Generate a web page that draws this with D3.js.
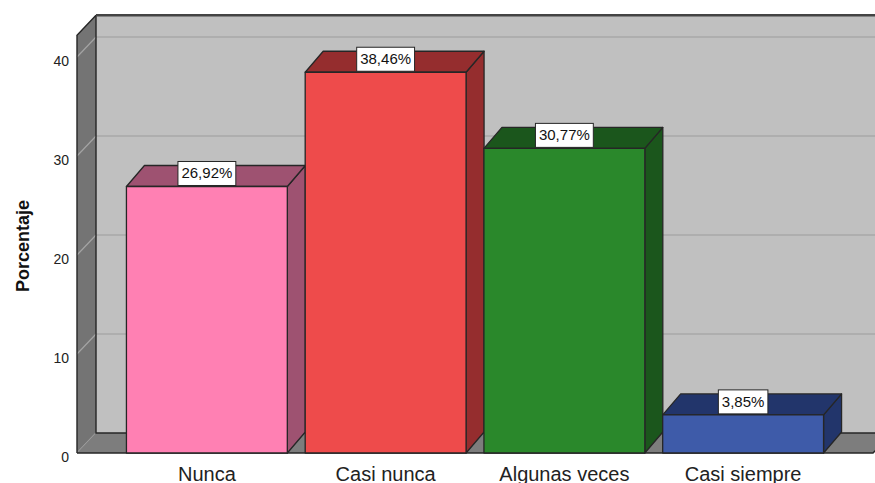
<!DOCTYPE html>
<html>
<head>
<meta charset="utf-8">
<script src="https://cdn.jsdelivr.net/npm/d3@7/dist/d3.min.js"></script>
<style>
  html, body { margin: 0; padding: 0; background: #ffffff; }
  svg { display: block; font-family: "Liberation Sans", Arial, sans-serif; }
</style>
</head>
<body>
<svg id="chart" width="875" height="483"></svg>
<script>
// Frequency of answers, in percent
const categories = ["Nunca", "Casi nunca", "Algunas veces", "Casi siempre"];
const percentages = [26.92, 38.46, 30.77, 3.85];
const valueLabels = ["26,92%", "38,46%", "30,77%", "3,85%"];
const yTicks = [0, 10, 20, 30, 40];
const frontColors = ["#ff80b3", "#ee4b4b", "#2a882b", "#3e5ba9"];
const shadeColors = ["#9e5271", "#952d2e", "#1b561c", "#22356b"];

const svg = d3.select("#chart");
const W = 875, H = 483;

// Box geometry: front plane and depth offsets
const frontLeft = 77, frontRight = 873;
const wallDX = 19, wallDY = 20;
const barDX = 18, barDY = 21;
const yMax = 42.2;

const y = d3.scaleLinear().domain([0, 40]).range([453, 57]);
const x = d3.scaleBand().domain(categories).range([117.5, 832.5])
  .paddingInner(0.1).paddingOuter(0.05);

const yBase = y(0), yTop = y(yMax);
const outline = "#262626";

// Back wall
svg.append("rect")
  .attr("x", frontLeft + wallDX).attr("y", yTop - wallDY)
  .attr("width", W + 40).attr("height", yBase - yTop)
  .attr("fill", "#c0c0c0");

// Gridlines on the back wall
svg.append("g").selectAll("line").data(yTicks.filter(d => d > 0)).join("line")
  .attr("x1", frontLeft + wallDX).attr("x2", W + 40)
  .attr("y1", d => y(d) - wallDY).attr("y2", d => y(d) - wallDY)
  .attr("stroke", "#a8a8a8").attr("stroke-width", 1.5);

// Left wall
svg.append("polygon")
  .attr("points", [[frontLeft, yTop], [frontLeft + wallDX, yTop - wallDY],
    [frontLeft + wallDX, yBase - wallDY], [frontLeft, yBase]].join(" "))
  .attr("fill", "#747474");

// Gridlines on the left wall
svg.append("g").selectAll("line").data(yTicks).join("line")
  .attr("x1", frontLeft).attr("x2", frontLeft + wallDX)
  .attr("y1", d => y(d)).attr("y2", d => y(d) - wallDY)
  .attr("stroke", "#a4a4a4").attr("stroke-width", 1.2);

// Floor
svg.append("polygon")
  .attr("points", [[frontLeft, yBase], [frontLeft + wallDX, yBase - wallDY],
    [frontRight + wallDX, yBase - wallDY], [frontRight, yBase]].join(" "))
  .attr("fill", "#7d7d7d");

// Edges of the box
const edges = svg.append("g").attr("fill", "none").attr("stroke", outline).attr("stroke-width", 1.4);
edges.append("path").attr("d",
  `M${frontLeft},${yBase}V${yTop}L${frontLeft + wallDX},${yTop - wallDY}`);
edges.append("path").attr("d",
  `M${frontLeft + wallDX},${yTop - wallDY}V${yBase - wallDY}H${frontRight + wallDX}`);
edges.append("path").attr("d",
  `M${frontLeft},${yBase}H${frontRight}L${frontRight + wallDX},${yBase - wallDY}`);
edges.append("line")
  .attr("x1", frontLeft + wallDX).attr("x2", W + 40)
  .attr("y1", yTop - wallDY).attr("y2", yTop - wallDY)
  .attr("stroke", "#444").attr("stroke-width", 2.5);

// Bars drawn as 3D boxes
const data = categories.map((c, i) => ({
  cat: c, value: percentages[i], label: valueLabels[i],
  front: frontColors[i], shade: shadeColors[i]
}));

const bars = svg.append("g").selectAll("g").data(data).join("g")
  .attr("stroke", outline).attr("stroke-width", 1.3).attr("stroke-linejoin", "round");

bars.each(function(d) {
  const g = d3.select(this);
  const x1 = x(d.cat), x2 = x1 + x.bandwidth();
  const yt = y(d.value), yb = y(0);
  g.append("polygon")
    .attr("points", [[x2, yt], [x2 + barDX, yt - barDY], [x2 + barDX, yb - barDY], [x2, yb]].join(" "))
    .attr("fill", d.shade);
  g.append("polygon")
    .attr("points", [[x1, yt], [x1 + barDX, yt - barDY], [x2 + barDX, yt - barDY], [x2, yt]].join(" "))
    .attr("fill", d.shade);
  g.append("rect")
    .attr("x", x1).attr("y", yt).attr("width", x2 - x1).attr("height", yb - yt)
    .attr("fill", d.front);
});

// Value labels in white boxes
const labels = svg.append("g").selectAll("g").data(data).join("g")
  .attr("transform", d => `translate(${x(d.cat) + x.bandwidth() / 2},${y(d.value) - 1})`);
labels.append("text")
  .attr("text-anchor", "middle").attr("y", -7)
  .attr("font-size", 15).attr("fill", "#111")
  .text(d => d.label);
labels.each(function() {
  const g = d3.select(this);
  const w = g.select("text").node().getComputedTextLength() + 7;
  g.insert("rect", "text")
    .attr("x", -w / 2).attr("y", -24).attr("width", w).attr("height", 24)
    .attr("fill", "#fff").attr("stroke", outline).attr("stroke-width", 1);
});

// Y axis
const yAxis = svg.append("g")
  .attr("transform", `translate(${frontLeft},0)`)
  .call(d3.axisLeft(y).tickValues(yTicks).tickSize(0).tickPadding(8).tickFormat(d3.format("d")));
yAxis.select(".domain").remove();
yAxis.selectAll("text")
  .attr("font-family", "Liberation Sans, Arial, sans-serif")
  .attr("font-size", 14).attr("fill", "#222").attr("dy", "0.72em")
  .attr("transform", "translate(0,-1.5)");

svg.append("text")
  .attr("transform", `translate(29,246) rotate(-90)`)
  .attr("text-anchor", "middle")
  .attr("font-size", 18).attr("font-weight", "bold").attr("fill", "#111")
  .text("Porcentaje");

// Category axis
const xAxis = svg.append("g")
  .attr("transform", `translate(0,${yBase})`)
  .call(d3.axisBottom(x).tickSize(0).tickPadding(0));
xAxis.select(".domain").remove();
xAxis.selectAll("text")
  .attr("font-family", "Liberation Sans, Arial, sans-serif")
  .attr("font-size", 20).attr("fill", "#222").attr("dy", null)
  .attr("y", 27.5);
</script>
</body>
</html>
